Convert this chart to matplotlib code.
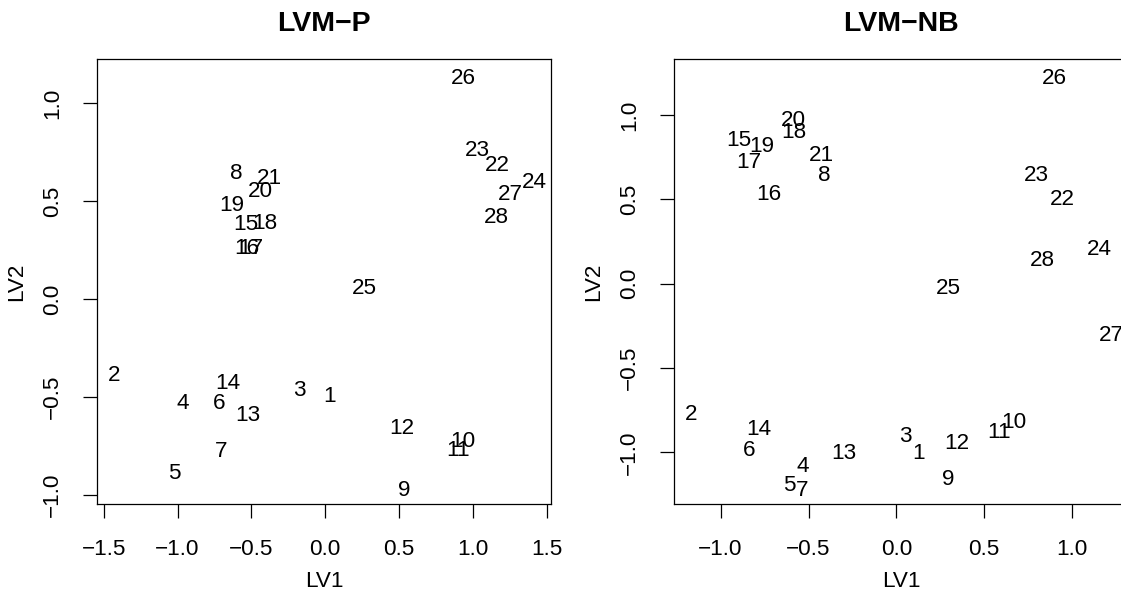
import matplotlib
matplotlib.use("Agg")
import matplotlib.pyplot as plt
from matplotlib.ticker import FuncFormatter

plt.rcParams['font.family'] = ['Liberation Sans', 'DejaVu Sans']

# sample ids 1..28 and their latent variable scores
ids = list(range(1, 29))

# LVM-P scores
p_lv1 = [0.027, -1.432, -0.176, -0.962, -1.018, -0.718, -0.707, -0.605, 0.533, 0.935,
         0.901, 0.517, -0.522, -0.657, -0.537, -0.533, -0.506, -0.409, -0.634, -0.438,
         -0.375, 1.168, 1.030, 1.416, 0.269, 0.935, 1.256, 1.161]
p_lv2 = [-0.486, -0.377, -0.455, -0.518, -0.876, -0.518, -0.762, 0.653, -0.961, -0.714,
         -0.757, -0.646, -0.578, -0.419, 0.393, 0.270, 0.270, 0.401, 0.491, 0.563,
         0.628, 0.696, 0.772, 0.609, 0.069, 1.141, 0.546, 0.430]

# LVM-NB scores
nb_lv1 = [0.129, -1.170, 0.053, -0.533, -0.611, -0.838, -0.535, -0.411, 0.293, 0.670,
          0.585, 0.344, -0.296, -0.781, -0.899, -0.723, -0.837, -0.586, -0.766, -0.586,
          -0.425, 0.947, 0.795, 1.154, 0.296, 0.898, 1.222, 0.828]
nb_lv2 = [-0.990, -0.762, -0.891, -1.070, -1.179, -0.975, -1.209, 0.658, -1.149, -0.808,
          -0.867, -0.931, -0.990, -0.847, 0.861, 0.543, 0.732, 0.911, 0.827, 0.980,
          0.772, 0.515, 0.654, 0.215, -0.011, 1.234, -0.295, 0.152]

p_xticks = [-1.5, -1.0, -0.5, 0.0, 0.5, 1.0, 1.5]
nb_xticks = [-1.0, -0.5, 0.0, 0.5, 1.0]
yticks = [-1.0, -0.5, 0.0, 0.5, 1.0]

FS = 16.2
fmt = FuncFormatter(lambda v, pos: f"{v:.1f}".replace('-', '\u2212'))


def pad_limits(vals, frac=0.04):
    lo, hi = min(vals), max(vals)
    d = (hi - lo) * frac
    return lo - d, hi + d


def score_plot(ax, x, y, title, xticks):
    for i, xv, yv in zip(ids, x, y):
        # centre the digits on the score (baseline shifted down by half the digit height)
        ax.annotate(str(i), (xv, yv), xytext=(0, -0.358 * FS), textcoords='offset points',
                    ha='center', va='baseline', fontsize=FS)
    ax.set_xlim(*pad_limits(x))
    ax.set_ylim(*pad_limits(y))
    ax.set_xticks(xticks)
    ax.set_yticks(yticks)
    ax.xaxis.set_major_formatter(fmt)
    ax.yaxis.set_major_formatter(fmt)
    ax.tick_params(direction='out', length=10, width=0.9, labelsize=FS)
    ax.tick_params(axis='x', pad=15)
    ax.tick_params(axis='y', labelrotation=90, pad=14.5)
    for lab in ax.get_yticklabels():
        lab.set_va('center')
    for s in ax.spines.values():
        s.set_linewidth(0.9)
    ax.text(0.5, -0.175, 'LV1', transform=ax.transAxes, ha='center', va='center', fontsize=FS)
    ax.text(-0.176, 0.5, 'LV2', transform=ax.transAxes, ha='center', va='center',
            rotation=90, fontsize=FS)
    ax.set_title(title, fontsize=20.5, fontweight='bold', pad=20)


fig = plt.figure(figsize=(11.21, 5.94), dpi=100)
ax1 = fig.add_axes([0.0865, 0.1515, 0.405, 0.7492])
ax2 = fig.add_axes([0.6012, 0.1515, 0.405, 0.7492])

score_plot(ax1, p_lv1, p_lv2, 'LVM\u2212P', p_xticks)
score_plot(ax2, nb_lv1, nb_lv2, 'LVM\u2212NB', nb_xticks)

fig.savefig('out.png', dpi=100)
